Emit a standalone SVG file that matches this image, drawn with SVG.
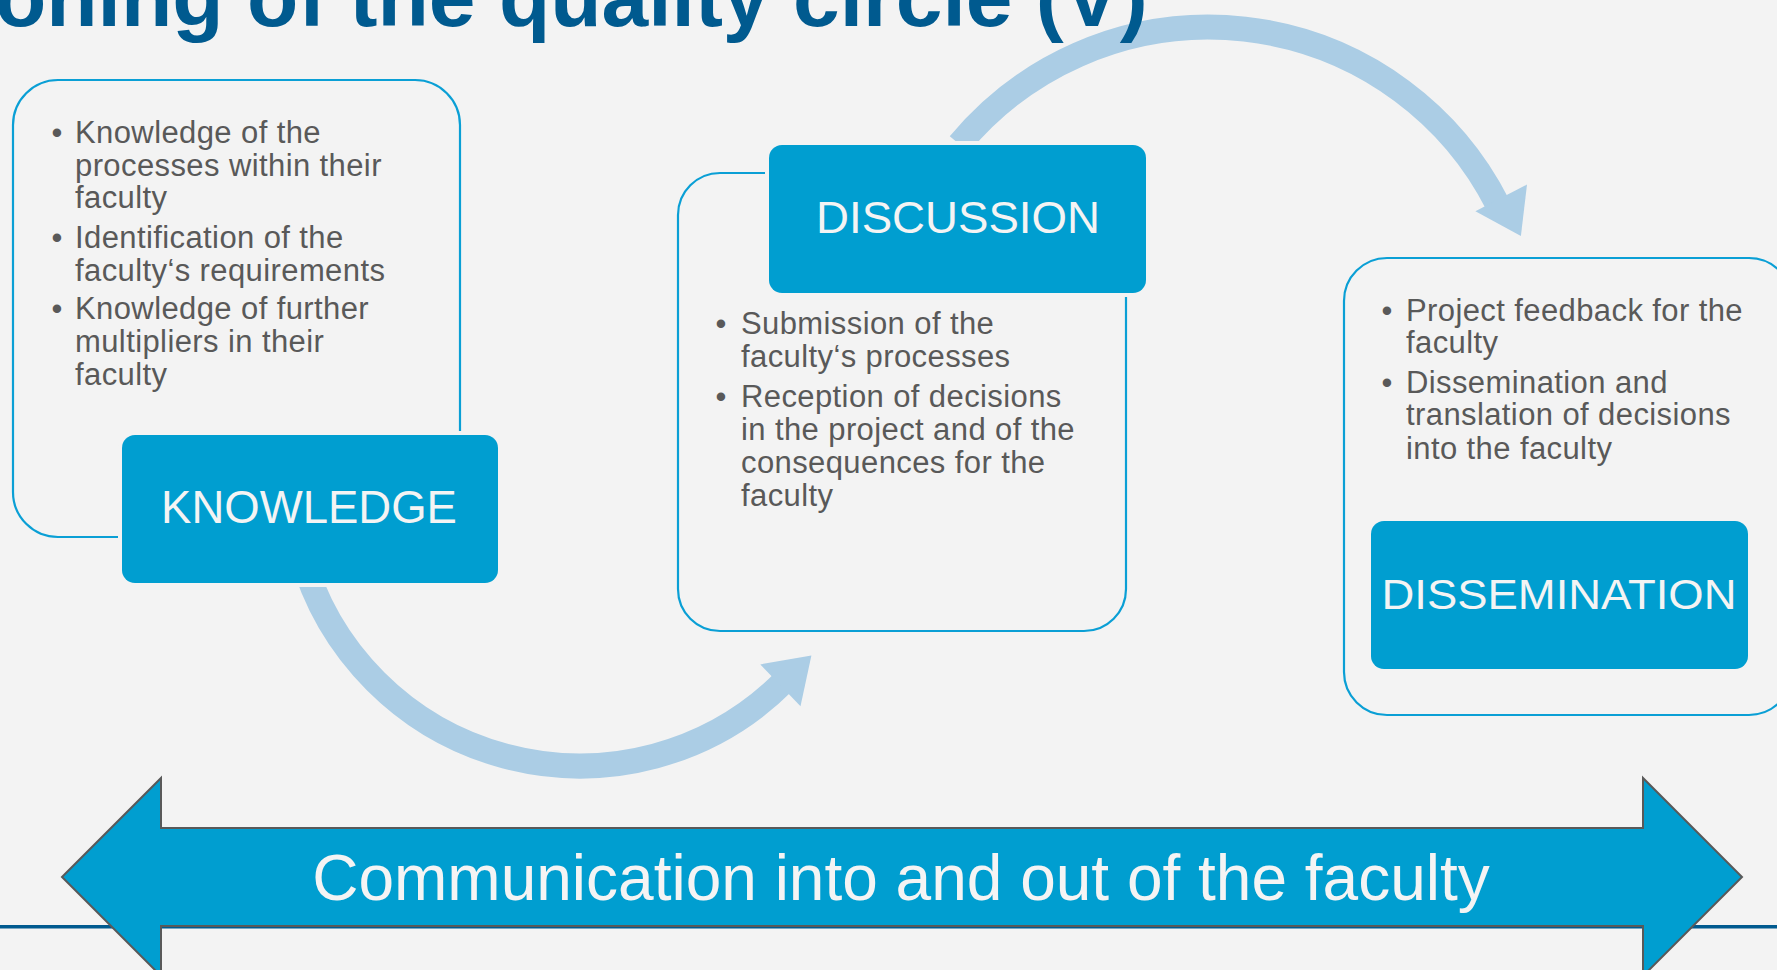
<svg xmlns="http://www.w3.org/2000/svg" width="1777" height="970" viewBox="0 0 1777 970">
  <style>
    .bg { fill: #F3F3F3; }
    .frame { fill: none; stroke: #0A9FD5; stroke-width: 2.2; }
    .label-box { fill: #009ED0; stroke: #F3F3F3; stroke-width: 8; paint-order: stroke; }
    .label { font-family: "Liberation Sans", Arial, sans-serif; fill: #F4F4F4; text-anchor: middle; }
    .bullet-text { font-family: "Liberation Sans", Arial, sans-serif; font-size: 31px; fill: #595959; letter-spacing: 0.4px; }
    .bullet { font-family: "Liberation Sans", Arial, sans-serif; font-size: 31px; fill: #595959; text-anchor: middle; }
    .flow { fill: none; stroke: #ABCDE5; stroke-width: 25; stroke-linecap: butt; }
    .flow-head { fill: #ABCDE5; }
    .title { font-family: "Liberation Sans", Arial, sans-serif; font-size: 84px; font-weight: bold; fill: #005A8F; }
    .comm { fill: #009ED0; stroke: #595959; stroke-width: 2; stroke-linejoin: miter; }
    .comm-text { font-family: "Liberation Sans", Arial, sans-serif; font-size: 64px; fill: #F4F4F4; text-anchor: middle; }
  </style>

  <rect class="bg" x="0" y="0" width="1777" height="970"/>

  <!-- footer rule behind the communication arrow -->
  <rect x="0" y="925" width="1777" height="3.5" fill="#005A8F"/>

  <!-- curved flow arrows between the stages -->
  <g id="connectors">
    <!-- KNOWLEDGE -> DISCUSSION (lower arc) -->
    <path class="flow" d="M 300.8 551.8 A 289 289 0 0 0 784.4 681.2"/>
    <polygon class="flow-head" points="811.4,655.5 800.5,706.2 760.3,664.4"/>
    <!-- DISCUSSION -> DISSEMINATION (upper arc) -->
    <path class="flow" d="M 959.4 144.3 A 324 324 0 0 1 1497.6 204.4"/>
    <polygon class="flow-head" points="1520.9,236.1 1527,184.6 1475.4,211.2"/>
  </g>

  <!-- title, partly outside the canvas -->
  <g id="title">
    <text class="title" x="-5" y="26">oning of the quality circle (V)</text>
  </g>

  <g id="node-knowledge">
    <rect class="frame" x="13" y="80" width="447" height="457" rx="45" ry="45"/>
    <text class="bullet" x="57" y="143">•</text>
    <text class="bullet" x="57" y="248">•</text>
    <text class="bullet" x="57" y="319">•</text>
    <text class="bullet-text">
      <tspan x="75" y="143">Knowledge of the</tspan>
      <tspan x="75" y="176">processes within their</tspan>
      <tspan x="75" y="208">faculty</tspan>
      <tspan x="75" y="248">Identification of the</tspan>
      <tspan x="75" y="281">faculty‘s requirements</tspan>
      <tspan x="75" y="319">Knowledge of further</tspan>
      <tspan x="75" y="352">multipliers in their</tspan>
      <tspan x="75" y="385">faculty</tspan>
    </text>
    <rect class="label-box" x="122" y="435" width="376" height="148" rx="13" ry="13"/>
    <text class="label" x="309" y="523" font-size="45.5">KNOWLEDGE</text>
  </g>

  <g id="node-discussion">
    <rect class="frame" x="678" y="173" width="448" height="458" rx="42" ry="42"/>
    <text class="bullet" x="721" y="334">•</text>
    <text class="bullet" x="721" y="407">•</text>
    <text class="bullet-text">
      <tspan x="741" y="334">Submission of the</tspan>
      <tspan x="741" y="367">faculty‘s processes</tspan>
      <tspan x="741" y="407">Reception of decisions</tspan>
      <tspan x="741" y="440">in the project and of the</tspan>
      <tspan x="741" y="473">consequences for the</tspan>
      <tspan x="741" y="506">faculty</tspan>
    </text>
    <rect class="label-box" x="769" y="145" width="377" height="148" rx="13" ry="13"/>
    <text class="label" x="958" y="233" font-size="44" textLength="284" lengthAdjust="spacingAndGlyphs">DISCUSSION</text>
  </g>

  <g id="node-dissemination">
    <rect class="frame" x="1344" y="258" width="448" height="457" rx="43" ry="43"/>
    <text class="bullet" x="1387" y="321">•</text>
    <text class="bullet" x="1387" y="393">•</text>
    <text class="bullet-text">
      <tspan x="1406" y="321">Project feedback for the</tspan>
      <tspan x="1406" y="353">faculty</tspan>
      <tspan x="1406" y="393">Dissemination and</tspan>
      <tspan x="1406" y="425">translation of decisions</tspan>
      <tspan x="1406" y="459">into the faculty</tspan>
    </text>
    <rect class="label-box" x="1371" y="521" width="377" height="148" rx="13" ry="13"/>
    <text class="label" x="1559" y="608.5" font-size="43" textLength="355" lengthAdjust="spacingAndGlyphs">DISSEMINATION</text>
  </g>

  <!-- two-headed communication arrow -->
  <g id="node-communication">
    <path class="comm" d="M 62 877 L 161 778 L 161 828 L 1643 828 L 1643 778 L 1742 877 L 1643 976 L 1643 926 L 161 926 L 161 976 Z"/>
    <text class="comm-text" x="901" y="900">Communication into and out of the faculty</text>
  </g>
</svg>
